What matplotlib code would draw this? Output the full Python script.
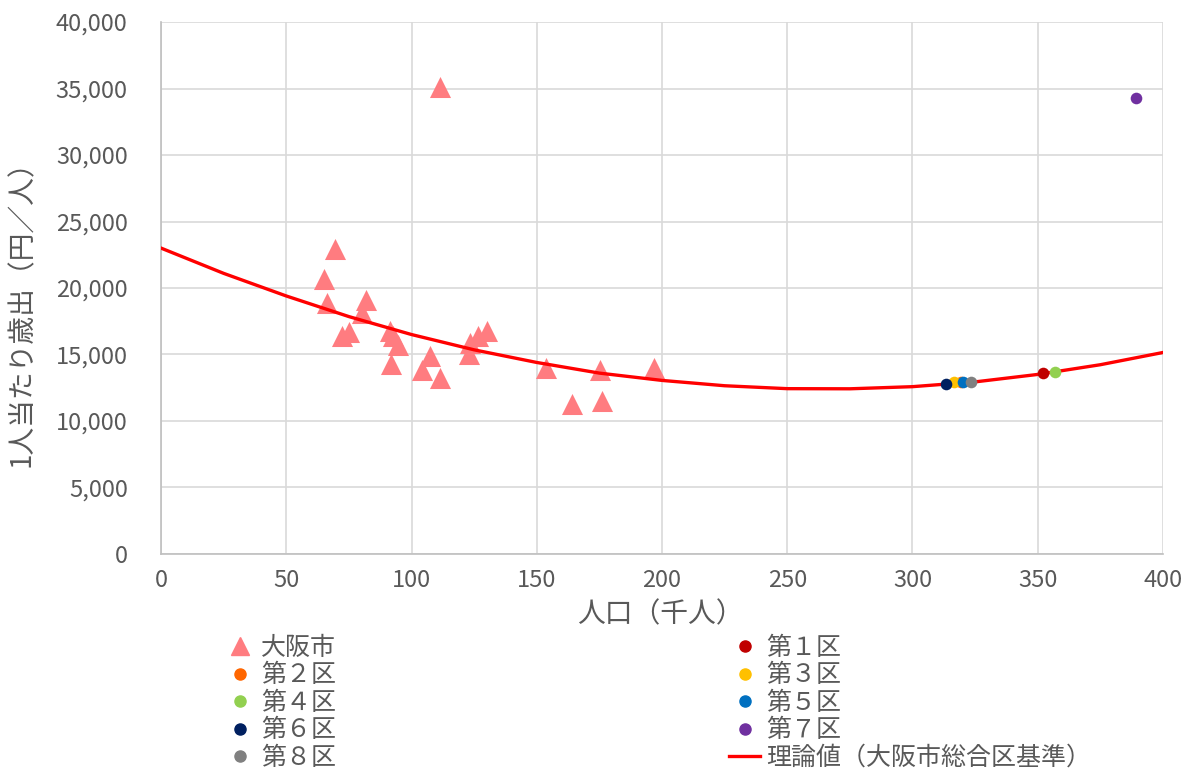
import matplotlib
matplotlib.use("Agg")
import matplotlib.pyplot as plt
from matplotlib.lines import Line2D
from matplotlib.ticker import FuncFormatter

plt.rcParams['font.family'] = ['Noto Sans CJK JP', 'DejaVu Sans']

# 大阪市（政令市の区）データ：人口（千人）, 1人当たり歳出（円／人）
osaka_pop = [111.4, 69.5, 65.0, 66.3, 81.8, 80.2, 72.3, 75.2, 91.4, 92.6, 94.6,
             92.0, 107.4, 104.0, 111.2, 123.4, 123.0, 126.5, 130.0, 153.7,
             164.0, 175.4, 176.2, 196.8]
osaka_exp = [35100, 22900, 20700, 18900, 19100, 18100, 16400, 16700, 16800,
             16400, 15700, 14300, 14900, 13800, 13200, 15900, 15000, 16400,
             16800, 14000, 11300, 13800, 11500, 14000]

# 区（合区案）データ
ku_labels = ['第１区', '第２区', '第３区', '第４区', '第５区', '第６区', '第７区', '第８区']
ku_pop = [352.0, 319.5, 316.6, 357.0, 320.2, 313.4, 389.2, 323.2]
ku_exp = [13600, 12900, 12950, 13650, 12900, 12800, 34300, 12950]
ku_colors = ['#C00000', '#FF6600', '#FFC000', '#92D050', '#0070C0', '#002060',
             '#7030A0', '#808080']

# 理論値（大阪市総合区基準）：曲線から読み取った値
theory_pop = [0, 25, 50, 75, 100, 125, 150, 175, 200, 225, 250, 275, 300,
              325, 350, 375, 400]
theory_exp = [23000, 21100, 19400, 17850, 16500, 15350, 14400, 13600, 13050,
              12650, 12430, 12420, 12580, 12940, 13500, 14230, 15150]

text_color = '#595959'
grid_color = '#D9D9D9'

fig = plt.figure(figsize=(11.85, 7.81), dpi=100)
ax = fig.add_axes([0.1359, 0.2907, 0.8455, 0.6811])

ax.plot(theory_pop, theory_exp, color='#FF0000', linewidth=2.4, zorder=3)
ax.scatter(osaka_pop, osaka_exp, marker='^', s=230, color='#FF7C80',
           linewidths=0, zorder=2)
for px, ey, c in zip(ku_pop, ku_exp, ku_colors):
    ax.scatter([px], [ey], marker='o', s=70, color=c, linewidths=0, zorder=4)

ax.set_xlim(0, 400)
ax.set_ylim(0, 40000)
ax.set_xticks(range(0, 401, 50))
ax.set_yticks(range(0, 40001, 5000))
ax.yaxis.set_major_formatter(FuncFormatter(lambda v, p: f'{int(v):,}'))
ax.grid(True, color=grid_color, linewidth=1.2)
ax.set_axisbelow(True)
for side in ['top', 'right']:
    ax.spines[side].set_visible(False)
for side in ['left', 'bottom']:
    ax.spines[side].set_color('#BFBFBF')
    ax.spines[side].set_linewidth(1.2)
ax.tick_params(length=0, labelsize=17, colors=text_color)
ax.tick_params(axis='y', pad=24)
ax.tick_params(axis='x', pad=11)

ax.set_xlabel('人口（千人）', fontsize=20, color=text_color)
ax.xaxis.set_label_coords(0.498, -0.085)
ax.set_ylabel('1人当たり歳出（円／人）', fontsize=20, color=text_color)
ax.yaxis.set_label_coords(-0.124, 0.465)

# 凡例（行順で並ぶよう列ごとに並べる）
h_osaka = Line2D([], [], marker='^', linestyle='none', color='#FF7C80',
                 markersize=13, label='大阪市')
h_ku = [Line2D([], [], marker='o', linestyle='none', color=c, markersize=8,
               label=l) for l, c in zip(ku_labels, ku_colors)]
h_line = Line2D([], [], color='#FF0000', linewidth=2.4,
                label='理論値（大阪市総合区基準）')
handles = [h_osaka, h_ku[1], h_ku[3], h_ku[5], h_ku[7],
           h_ku[0], h_ku[2], h_ku[4], h_ku[6], h_line]
fig.legend(handles=handles, ncol=2, loc='upper left',
           bbox_to_anchor=(0.189, 0.187), frameon=False, fontsize=18,
           labelcolor=text_color, handlelength=1.25, handletextpad=0.25,
           columnspacing=15.7, labelspacing=0.06, borderpad=0,
           borderaxespad=0)

fig.savefig('out.png', dpi=100)
